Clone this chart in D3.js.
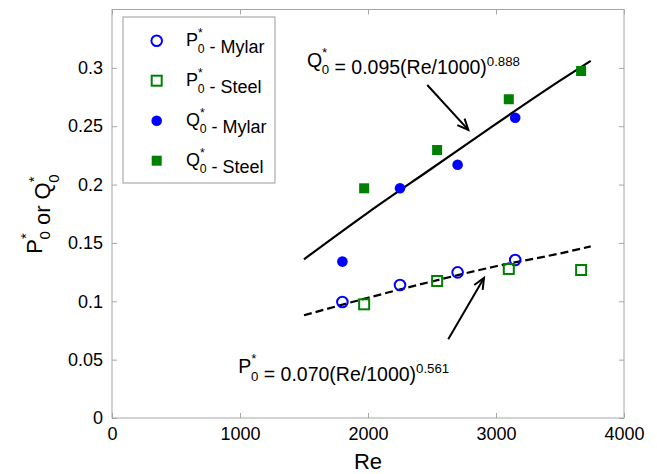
<!DOCTYPE html>
<html>
<head>
<meta charset="utf-8">
<script src="https://cdn.jsdelivr.net/npm/d3@7"></script>
<style>
  body { margin: 0; background: #fff; }
  text { font-family: "Liberation Sans", Arial, Helvetica, sans-serif; fill: #000; }
</style>
</head>
<body>
<div id="chart"></div>
<script>
// data
var mylarRe = [1800, 2250, 2700, 3150];
var steelRe = [1970, 2540, 3100, 3665];
var pMylar = [0.0994, 0.114, 0.1248, 0.1354];
var pSteel = [0.0974, 0.1174, 0.1277, 0.1268];
var qMylar = [0.134, 0.1968, 0.217, 0.2573];
var qSteel = [0.1968, 0.2296, 0.2731, 0.2973];

// fitted curves
var fitRe = [1500, 2000, 2500, 3000, 3500, 3740];
var qFit = [0.136, 0.176, 0.214, 0.252, 0.289, 0.306];
var pFit = [0.088, 0.103, 0.117, 0.130, 0.141, 0.147];

var xTicks = [0, 1000, 2000, 3000, 4000];
var yTicks = [0, 0.05, 0.1, 0.15, 0.2, 0.25, 0.3];

var W = 657, H = 474;
var m = { left: 112, right: 33, top: 9.5, bottom: 56 };
var blue = '#0000ff', green = '#008000', grey = '#a6a6a6';

var svg = d3.select('#chart').append('svg')
  .attr('width', W).attr('height', H);

var x = d3.scaleLinear().domain([0, 4000]).range([m.left, W - m.right]);
var y = d3.scaleLinear().domain([0, 0.35]).range([H - m.bottom, m.top]);

// axes: inward ticks on all four sides
function styleAxis(g) {
  g.select('.domain').remove();
  g.selectAll('.tick line').attr('stroke', grey);
  g.selectAll('.tick text').attr('font-size', 18).attr('fill', '#000')
    .style('font-family', '"Liberation Sans", Arial, sans-serif');
}
svg.append('g').attr('transform', 'translate(0,' + y(0) + ')')
  .call(d3.axisBottom(x).tickValues(xTicks).tickSize(-5).tickPadding(9).tickFormat(d3.format('d')))
  .call(styleAxis);
svg.append('g').attr('transform', 'translate(0,' + y(0.35) + ')')
  .call(d3.axisTop(x).tickValues(xTicks).tickSize(-5).tickFormat(''))
  .call(styleAxis);
svg.append('g').attr('transform', 'translate(' + x(0) + ',0)')
  .call(d3.axisLeft(y).tickValues(yTicks).tickSize(-5).tickPadding(9).tickFormat(function (d) { return String(+d.toFixed(2)); }))
  .call(styleAxis);
svg.append('g').attr('transform', 'translate(' + x(4000) + ',0)')
  .call(d3.axisRight(y).tickValues(yTicks).tickSize(-5).tickFormat(''))
  .call(styleAxis);

// frame
svg.append('rect')
  .attr('x', x(0)).attr('y', y(0.35))
  .attr('width', x(4000) - x(0)).attr('height', y(0) - y(0.35))
  .attr('fill', 'none').attr('stroke', grey).attr('stroke-width', 1);

// text with a stacked superscript "*" and subscript "0"
// parts: [{t, kind}] kind: 'n' normal, 'st' star+sub0, 'sup' superscript
function richText(g, tx, ty, size, parts, anchor) {
  var t = g.append('text').attr('x', tx).attr('y', ty)
    .attr('font-size', size).attr('text-anchor', anchor || 'start');
  var small = size * 0.68;
  parts.forEach(function (p) {
    if (p.kind === 'st') {
      t.append('tspan').attr('dy', -size * 0.52).attr('font-size', small).text('*');
      t.append('tspan').attr('dx', -small * 0.42).attr('dy', size * 0.9).attr('font-size', small).text('0');
      t.append('tspan').attr('dy', -size * 0.38).attr('font-size', size).text('');
    } else if (p.kind === 'sup') {
      t.append('tspan').attr('dy', -size * 0.42).attr('font-size', small).text(p.t);
      t.append('tspan').attr('dy', size * 0.42).attr('font-size', size).text('');
    } else {
      t.append('tspan').attr('font-size', size).text(p.t);
    }
  });
  return t;
}

// fit lines
var line = d3.line()
  .x(function (d) { return x(d[0]); })
  .y(function (d) { return y(d[1]); })
  .curve(d3.curveMonotoneX);

svg.append('path')
  .datum(d3.zip(fitRe, qFit))
  .attr('d', line)
  .attr('fill', 'none').attr('stroke', '#000').attr('stroke-width', 2.2);
svg.append('path')
  .datum(d3.zip(fitRe, pFit))
  .attr('d', line)
  .attr('fill', 'none').attr('stroke', '#000').attr('stroke-width', 2.2)
  .attr('stroke-dasharray', '8,4');

// markers
function drawMarker(g, type, cx, cy, color) {
  if (type === 'circleOpen') {
    g.append('circle').attr('cx', cx).attr('cy', cy).attr('r', 5.3)
      .attr('fill', 'none').attr('stroke', color).attr('stroke-width', 2);
  } else if (type === 'squareOpen') {
    g.append('rect').attr('x', cx - 5).attr('y', cy - 5).attr('width', 10).attr('height', 10)
      .attr('fill', 'none').attr('stroke', color).attr('stroke-width', 2);
  } else if (type === 'circle') {
    g.append('circle').attr('cx', cx).attr('cy', cy).attr('r', 5.3).attr('fill', color);
  } else {
    g.append('rect').attr('x', cx - 5).attr('y', cy - 5).attr('width', 10).attr('height', 10)
      .attr('fill', color);
  }
}

var series = [
  { name: 'P', mat: 'Mylar', re: mylarRe, v: pMylar, type: 'circleOpen', color: blue },
  { name: 'P', mat: 'Steel', re: steelRe, v: pSteel, type: 'squareOpen', color: green },
  { name: 'Q', mat: 'Mylar', re: mylarRe, v: qMylar, type: 'circle', color: blue },
  { name: 'Q', mat: 'Steel', re: steelRe, v: qSteel, type: 'square', color: green }
];

var gm = svg.append('g');
series.forEach(function (s) {
  s.re.forEach(function (r, i) {
    drawMarker(gm, s.type, x(r), y(s.v[i]), s.color);
  });
});

// arrows
function arrow(x1, y1, x2, y2) {
  var g = svg.append('g').attr('stroke', '#000').attr('stroke-width', 2).attr('fill', 'none');
  var px1 = x(x1), py1 = y(y1), px2 = x(x2), py2 = y(y2);
  g.append('line').attr('x1', px1).attr('y1', py1).attr('x2', px2).attr('y2', py2);
  var a = Math.atan2(py2 - py1, px2 - px1), L = 12, sp = 0.42;
  g.append('polyline').attr('points', [
    [px2 - L * Math.cos(a - sp), py2 - L * Math.sin(a - sp)],
    [px2, py2],
    [px2 - L * Math.cos(a + sp), py2 - L * Math.sin(a + sp)]
  ].map(function (p) { return p.join(','); }).join(' '));
}
arrow(2463, 0.2853, 2784, 0.2468);
arrow(2627, 0.0674, 2906, 0.1200);

// annotations
richText(svg, x(1523), y(0.301), 19.5, [
  { t: 'Q' }, { kind: 'st' }, { t: ' = 0.095(Re/1000)' }, { t: '0.888', kind: 'sup' }
]);
richText(svg, x(987), y(0.0383), 19.5, [
  { t: 'P' }, { kind: 'st' }, { t: ' = 0.070(Re/1000)' }, { t: '0.561', kind: 'sup' }
]);

// legend
var lg = svg.append('g');
lg.append('rect').attr('x', 123).attr('y', 17).attr('width', 152).attr('height', 166)
  .attr('fill', '#fff').attr('stroke', '#999').attr('stroke-width', 1);
series.forEach(function (s, i) {
  var cy = 40.7 + i * 40;
  drawMarker(lg, s.type, 156.7, cy, s.color);
  richText(lg, 186, cy + 5.5, 18, [{ t: s.name }, { kind: 'st' }, { t: ' - ' + s.mat }]);
});

// axis titles
svg.append('text').attr('x', (x(0) + x(4000)) / 2).attr('y', 469)
  .attr('text-anchor', 'middle').attr('font-size', 22).text('Re');
var yt = svg.append('g').attr('transform', 'translate(42,' + (y(0) + y(0.35)) / 2 + ') rotate(-90)');
richText(yt, -40, 0, 22, [{ t: 'P' }, { kind: 'st' }, { t: ' or Q' }, { kind: 'st' }]);
</script>
</body>
</html>
